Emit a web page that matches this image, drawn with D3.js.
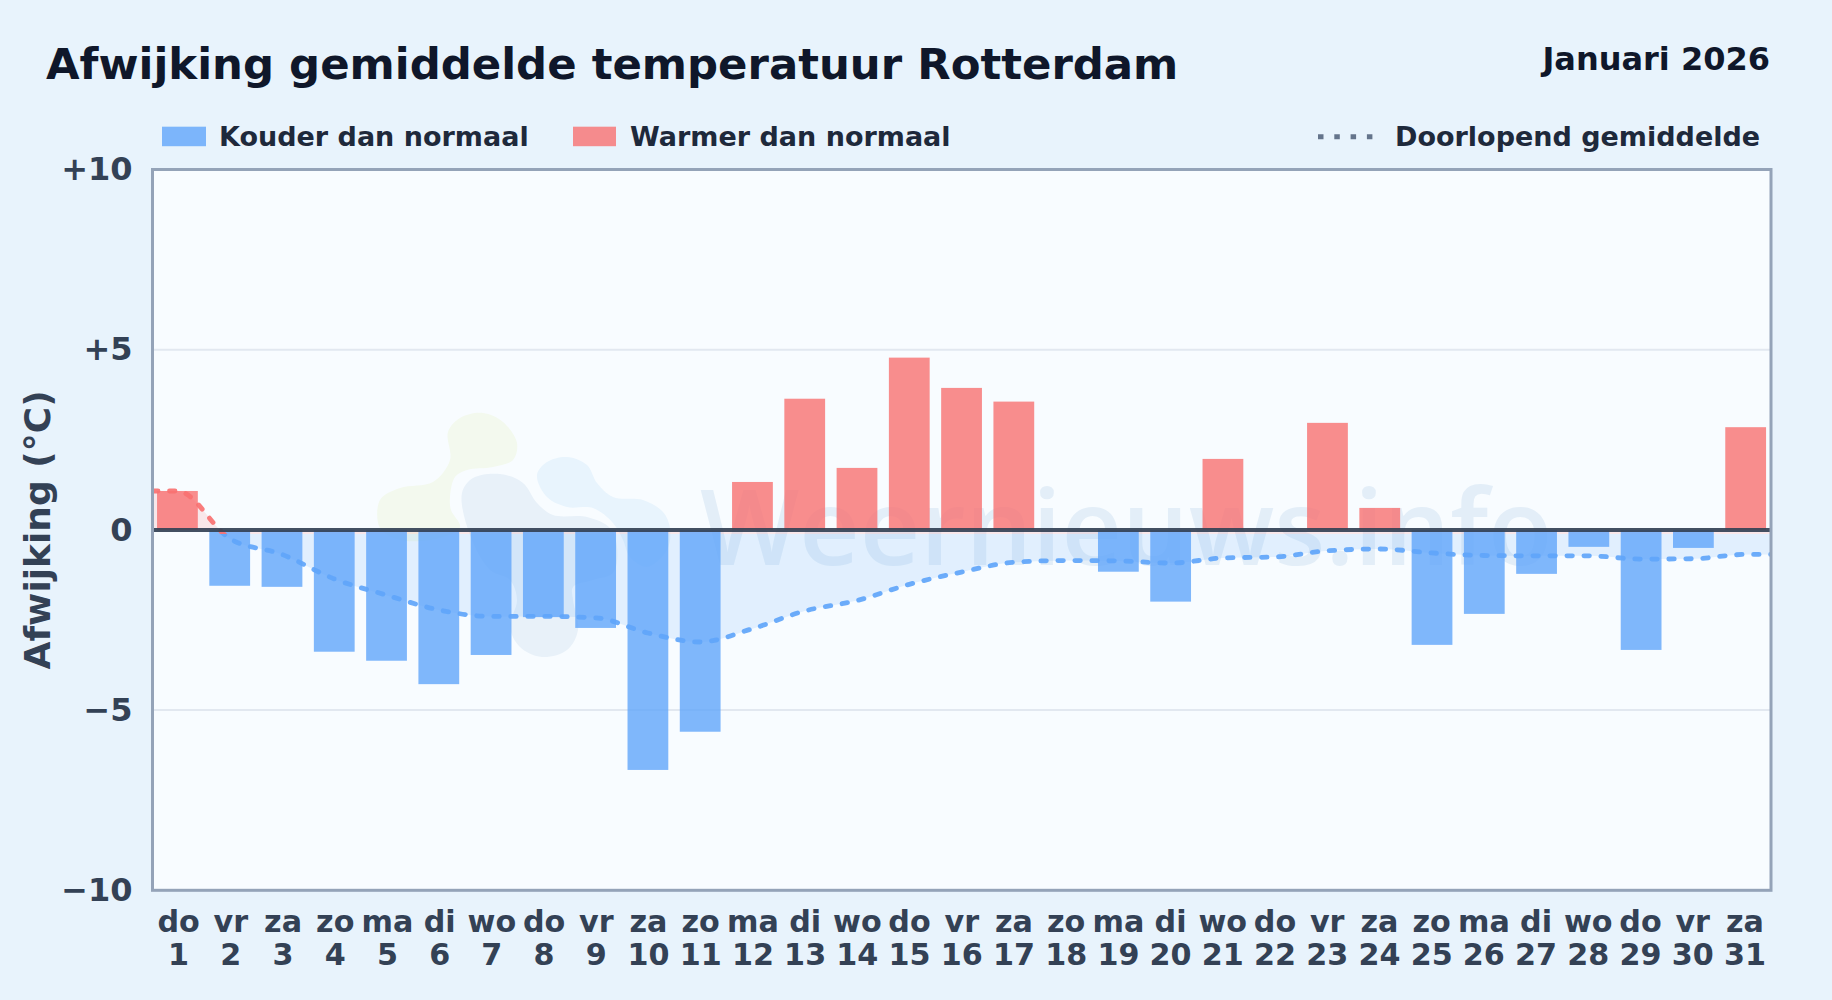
<!DOCTYPE html>
<html lang="nl">
<head>
<meta charset="UTF-8">
<title>Afwijking gemiddelde temperatuur Rotterdam</title>
<script src="https://d3js.org/d3.v7.min.js"></script>
<style>
  html, body { margin: 0; padding: 0; background: #e8f3fc; }
  svg { display: block; }
  text { font-family: "DejaVu Sans", sans-serif; font-weight: bold; }
  .tick text { fill: #334155; font-size: 30.2px; }
  .y-axis .tick text { font-size: 32px; }
  .legend text { fill: #1e293b; font-size: 27px; }
</style>
</head>
<body>
<svg id="chart" width="1832" height="1000"></svg>
<script>
// day labels
const weekdays = ["do","vr","za","zo","ma","di","wo","do","vr","za","zo","ma","di","wo","do","vr","za","zo","ma","di","wo","do","vr","za","zo","ma","di","wo","do","vr","za"];
const days = ["1","2","3","4","5","6","7","8","9","10","11","12","13","14","15","16","17","18","19","20","21","22","23","24","25","26","27","28","29","30","31"];

// values (deg C against normal)
const deviation = [1.08,-1.55,-1.58,-3.38,-3.63,-4.28,-3.47,-2.42,-2.72,-6.66,-5.60,1.33,3.64,1.72,4.78,3.94,3.56,0,-1.16,-1.99,1.97,0,2.97,0.61,-3.19,-2.33,-1.22,-0.47,-3.33,-0.50,2.85];
const runningMean = [1.08,-0.24,-0.68,-1.36,-1.81,-2.22,-2.40,-2.40,-2.44,-2.86,-3.11,-2.74,-2.25,-1.96,-1.51,-1.17,-0.90,-0.85,-0.86,-0.92,-0.78,-0.75,-0.58,-0.53,-0.64,-0.71,-0.72,-0.72,-0.81,-0.80,-0.68];
const yTicks = [-10,-5,0,5,10];

const blue = "#60a5fa", red = "#f87171";

const svg = d3.select("#chart");

// plot box
const plotLeft = 152.5, plotRight = 1771, plotTop = 169.5, plotBottom = 890.3;

const x = d3.scaleBand().domain(d3.range(31)).range([151.3, 1771.8]).paddingInner(0.22).paddingOuter(0.11);
const xLabels = d3.scaleBand().domain(d3.range(31)).range([plotLeft, plotRight]);
const y = d3.scaleLinear().domain([-10, 10]).range([plotBottom, plotTop]);
const cx = i => x(i) + x.bandwidth() / 2;

// title
svg.append("text").attr("x", 46).attr("y", 79).attr("fill", "#0f172a").style("font-size", "43.4px")
  .text("Afwijking gemiddelde temperatuur Rotterdam");
svg.append("text").attr("x", 1770).attr("y", 70).attr("text-anchor", "end").attr("fill", "#0f172a").style("font-size", "32px")
  .text("Januari 2026");

// legend
const legend = svg.append("g").attr("class", "legend");
legend.append("rect").attr("x", 162).attr("y", 126.7).attr("width", 44).attr("height", 19.5).attr("fill", blue).attr("fill-opacity", 0.8);
legend.append("text").attr("x", 219).attr("y", 146).text("Kouder dan normaal");
legend.append("rect").attr("x", 573).attr("y", 126.7).attr("width", 43).attr("height", 19.5).attr("fill", red).attr("fill-opacity", 0.8);
legend.append("text").attr("x", 630).attr("y", 146).text("Warmer dan normaal");
legend.append("line").attr("x1", 1318).attr("x2", 1373).attr("y1", 136.7).attr("y2", 136.7)
  .attr("stroke", "#64748b").attr("stroke-width", 5).attr("stroke-dasharray", "5.5 10.8");
legend.append("text").attr("x", 1395).attr("y", 146).text("Doorlopend gemiddelde");

// plot background
svg.append("rect").attr("x", plotLeft).attr("y", plotTop).attr("width", plotRight - plotLeft).attr("height", plotBottom - plotTop).attr("fill", "#f8fcff");

// watermark
const wm = svg.append("g");
const blob = d3.line().curve(d3.curveCatmullRomClosed.alpha(0.5));
const logoGreen = [[448,432],[460,418],[483,413],[503,422],[517,443],[513,460],[493,467],[467,470],[455,477],[450,497],[451,510],[460,527],[440,538],[400,540],[380,528],[380,500],[400,488],[433,482],[450,460]];
const logoGrey = [[462,493],[473,478],[500,474],[523,483],[537,503],[553,515],[587,517],[610,528],[617,547],[613,573],[593,580],[573,587],[573,600],[578,630],[567,650],[542,657],[520,647],[510,627],[517,600],[510,580],[490,570],[470,535]];
const logoBlue = [[537,475],[547,462],[567,457],[587,465],[597,483],[613,497],[643,500],[663,512],[670,528],[667,550],[647,567],[630,557],[623,540],[613,523],[593,508],[567,507],[547,497]];
wm.append("path").attr("d", blob(logoGreen)).attr("fill", "#f3f9ee");
wm.append("path").attr("d", blob(logoBlue)).attr("fill", "#e8f4fd");
wm.append("path").attr("d", blob(logoGrey)).attr("fill", "#e8f1f9");
wm.append("text").attr("x", 700).attr("y", 565).attr("fill", "#e3eef8")
  .style("font-family", "'Open Sans'").style("font-weight", "600").style("font-size", "105px")
  .text("Weernieuws.info");

// grid
svg.append("g").selectAll("line").data(yTicks.filter(d => d !== 0)).enter().append("line")
  .attr("x1", plotLeft).attr("x2", plotRight).attr("y1", d => y(d)).attr("y2", d => y(d))
  .attr("stroke", "#e2e8f0").attr("stroke-width", 2);

// clip regions either side of the zero line
const defs = svg.append("defs");
defs.append("clipPath").attr("id", "above").append("rect")
  .attr("x", plotLeft).attr("y", plotTop).attr("width", plotRight - plotLeft).attr("height", y(0) - plotTop + 4);
defs.append("clipPath").attr("id", "below").append("rect")
  .attr("x", plotLeft).attr("y", y(0) + 4).attr("width", plotRight - plotLeft).attr("height", plotBottom - y(0) - 4);

// running mean, held flat out to the plot edges
const meanPoints = [[plotLeft, runningMean[0]]]
  .concat(runningMean.map((d, i) => [cx(i), d]))
  .concat([[plotRight, runningMean[30]]]);

const meanArea = d3.area().curve(d3.curveMonotoneX).x(d => d[0]).y0(y(0)).y1(d => y(d[1]));
const meanLine = d3.line().curve(d3.curveMonotoneX).x(d => d[0]).y(d => y(d[1]));

svg.append("path").attr("d", meanArea(meanPoints)).attr("fill", red).attr("fill-opacity", 0.15).attr("clip-path", "url(#above)");
svg.append("path").attr("d", meanArea(meanPoints)).attr("fill", blue).attr("fill-opacity", 0.15).attr("clip-path", "url(#below)");

// bars
svg.append("g").selectAll("rect").data(deviation).enter().append("rect")
  .attr("x", (d, i) => x(i))
  .attr("y", d => y(Math.max(d, 0)))
  .attr("width", x.bandwidth())
  .attr("height", d => Math.abs(y(d) - y(0)))
  .attr("fill", d => d > 0 ? red : blue)
  .attr("fill-opacity", 0.8);

// running mean line
[["above", red], ["below", blue]].forEach(function (s) {
  svg.append("path").attr("d", meanLine(meanPoints)).attr("fill", "none")
    .attr("stroke", s[1]).attr("stroke-width", 4.8).attr("stroke-linecap", "round").attr("stroke-opacity", 0.92)
    .attr("stroke-dasharray", "5.5 11.5").attr("clip-path", "url(#" + s[0] + ")");
});

// zero line
svg.append("line").attr("x1", plotLeft).attr("x2", plotRight).attr("y1", y(0)).attr("y2", y(0))
  .attr("stroke", "#334155").attr("stroke-width", 4).attr("stroke-opacity", 0.92);

// border
svg.append("rect").attr("x", plotLeft).attr("y", plotTop).attr("width", plotRight - plotLeft).attr("height", plotBottom - plotTop)
  .attr("fill", "none").attr("stroke", "#94a3b8").attr("stroke-width", 3);

// axes
const yAxis = d3.axisLeft(y).tickValues(yTicks).tickSize(0).tickPadding(20)
  .tickFormat(d => d > 0 ? "+" + d : d < 0 ? "\u2212" + Math.abs(d) : "0");
svg.append("g").attr("class", "y-axis").attr("transform", "translate(" + plotLeft + ",0)").call(yAxis)
  .call(g => g.select(".domain").remove());

const xAxis = d3.axisBottom(xLabels).tickSize(0).tickFormat("");
const xg = svg.append("g").attr("transform", "translate(0," + plotBottom + ")").call(xAxis)
  .call(g => g.select(".domain").remove());
xg.selectAll(".tick text").each(function (d) {
  const t = d3.select(this).attr("y", 0).attr("dy", null);
  t.text(null);
  t.append("tspan").attr("x", 0).attr("y", 41.5).text(weekdays[d]);
  t.append("tspan").attr("x", 0).attr("y", 74.8).text(days[d]);
});

// y axis title
svg.append("text").attr("transform", "translate(49.5," + y(0) + ") rotate(-90)").attr("text-anchor", "middle")
  .attr("fill", "#334155").style("font-size", "36px").text("Afwijking (\u00b0C)");
</script>
</body>
</html>
